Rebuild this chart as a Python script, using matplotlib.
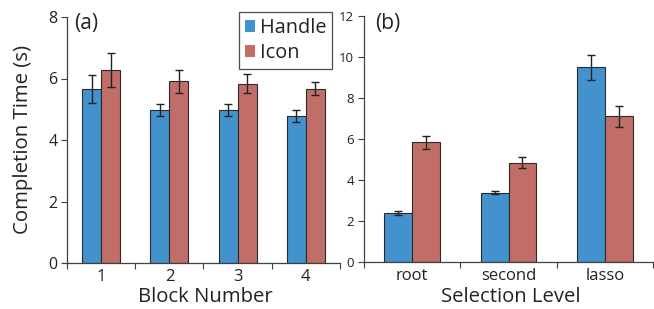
import matplotlib
matplotlib.use("Agg")
import matplotlib.pyplot as plt
from matplotlib.patches import Patch
import numpy as np

plt.rcParams['font.family'] = ['Open Sans', 'DejaVu Sans']

# Panel (a)
blocks = ["1", "2", "3", "4"]
handle_a = [5.66, 4.98, 4.98, 4.79]
handle_a_err = [0.45, 0.19, 0.20, 0.19]
icon_a = [6.27, 5.91, 5.83, 5.66]
icon_a_err = [0.55, 0.37, 0.31, 0.21]

# Panel (b)
levels = ["root", "second", "lasso"]
handle_b = [2.38, 3.39, 9.49]
handle_b_err = [0.11, 0.08, 0.60]
icon_b = [5.83, 4.84, 7.10]
icon_b_err = [0.30, 0.27, 0.52]

series_names = ["Handle", "Icon"]
blue = '#4392CE'
red = '#C16E68'
edge = '#2a2a2a'
spine_col = '#404040'
txt = '#222222'

fig = plt.figure(figsize=(6.54, 3.09), dpi=100)
W, H = 654, 309

def make_ax(x0, x1, y0, y1):
    return fig.add_axes([x0 / W, (H - y1) / H, (x1 - x0) / W, (y1 - y0) / H])

axA = make_ax(67, 340, 17, 263)
axB = make_ax(364, 653, 16, 262)

def draw(ax, cats, h, he, ic, ie, ymax, bw, ytick_fs, xtick_fs):
    x = np.arange(len(cats))
    ekw = dict(ecolor='#222222', elinewidth=1.0, capsize=3, capthick=1.0)
    ax.bar(x - bw / 2, h, bw, color=blue, edgecolor=edge, linewidth=0.8,
           yerr=he, error_kw=ekw, zorder=2)
    ax.bar(x + bw / 2, ic, bw, color=red, edgecolor=edge, linewidth=0.8,
           yerr=ie, error_kw=ekw, zorder=2)
    ax.set_xlim(-0.5, len(cats) - 0.5)
    ax.set_ylim(0, ymax)
    ax.set_xticks(np.arange(len(cats) + 1) - 0.5)
    ax.set_xticklabels([])
    ax.set_xticks(x, minor=True)
    ax.set_xticklabels(cats, minor=True, fontsize=xtick_fs, color=txt)
    ax.tick_params(axis='x', which='major', direction='out', length=4,
                   color=spine_col, width=0.8)
    ax.tick_params(axis='x', which='minor', length=0, pad=4)
    ax.tick_params(axis='y', direction='out', length=4, color=spine_col,
                   width=0.8, labelsize=ytick_fs, labelcolor=txt, pad=3)
    for s in ['top', 'right']:
        ax.spines[s].set_visible(False)
    for s in ['left', 'bottom']:
        ax.spines[s].set_color(spine_col)
        ax.spines[s].set_linewidth(0.9)

draw(axA, blocks, handle_a, handle_a_err, icon_a, icon_a_err, 8, 0.28, 11.5, 12)
axA.set_yticks([0, 2, 4, 6, 8])
draw(axB, levels, handle_b, handle_b_err, icon_b, icon_b_err, 12, 0.29, 9.5, 12)
axB.set_yticks([0, 2, 4, 6, 8, 10, 12])

fig.text(23 / W, 1 - 140 / H, "Completion Time (s)", rotation=90,
         ha='center', va='center', fontsize=14.7, color=txt)
fig.text(205 / W, 1 - 297 / H, "Block Number", ha='center', va='center',
         fontsize=14.6, color=txt)
fig.text(511 / W, 1 - 297 / H, "Selection Level", ha='center', va='center',
         fontsize=14.6, color=txt)
fig.text(74 / W, 1 - 24 / H, "(a)", ha='left', va='center', fontsize=15,
         color=txt)
fig.text(375 / W, 1 - 24 / H, "(b)", ha='left', va='center', fontsize=15,
         color=txt)

handles = [Patch(facecolor=blue, edgecolor='none'),
           Patch(facecolor=red, edgecolor='none')]
leg = fig.legend(handles, series_names, loc='upper left',
                 bbox_to_anchor=(239 / W, 1 - 12 / H), frameon=True,
                 fontsize=14.3, handlelength=0.5, handleheight=0.5,
                 handletextpad=0.25, borderpad=0.3, labelspacing=0.25,
                 fancybox=False, borderaxespad=0)
leg.get_frame().set_edgecolor('#222222')
leg.get_frame().set_linewidth(0.9)
for t in leg.get_texts():
    t.set_color(txt)

fig.savefig("out.png", dpi=100)
